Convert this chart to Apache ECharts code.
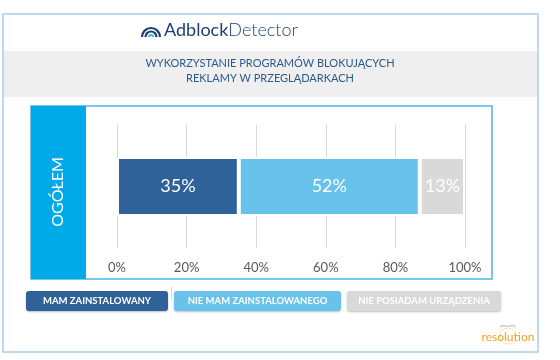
<!DOCTYPE html>
<html><head><meta charset="utf-8">
<script src="https://cdn.jsdelivr.net/npm/echarts@6/dist/echarts.min.js"></script>
<style>html,body{margin:0;padding:0;background:#fff}#c{width:560px;height:360px}</style>
</head><body><div id="c"></div>
<script>
const categories = ['OGÓŁEM'];
const seriesNames = ['MAM ZAINSTALOWANY', 'NIE MAM ZAINSTALOWANEGO', 'NIE POSIADAM URZĄDZENIA'];
const installed = [35];
const notInstalled = [52];
const noDevice = [13];
const tickLabels = ['0%', '20%', '40%', '60%', '80%', '100%'];
const titleLines = ['WYKORZYSTANIE PROGRAMÓW BLOKUJĄCYCH', 'REKLAMY W PRZEGLĄDARKACH'];
const colors = ['#2f6299', '#68c2ea', '#d9d9d9'];
const seriesData = [installed, notInstalled, noDevice];

const FONT = 'Lato, "Open Sans", sans-serif';
const chart = echarts.init(document.getElementById('c'), null, {renderer: 'canvas'});

const legendBoxes = [[26, 168], [174, 341], [347, 501]];
const legendGraphics = seriesNames.map((n, i) => ({
  type: 'group',
  children: [
    {type: 'rect', shape: {x: legendBoxes[i][0], y: 291, width: legendBoxes[i][1] - legendBoxes[i][0], height: 20, r: 3},
     style: {fill: colors[i], shadowBlur: 2, shadowColor: 'rgba(0,0,0,0.25)', shadowOffsetY: 1}},
    {type: 'text', x: (legendBoxes[i][0] + legendBoxes[i][1]) / 2, y: 301,
     style: {text: n, fill: '#ffffff', font: 'bold 9.5px ' + FONT, align: 'center', verticalAlign: 'middle'}}
  ]
}));

const option = {
  animation: false,
  backgroundColor: '#ffffff',
  grid: {left: 117, right: 95, top: 125, bottom: 112, containLabel: false},
  xAxis: {
    type: 'value', min: 0, max: 100, interval: 20,
    axisLine: {show: false}, axisTick: {show: false},
    splitLine: {show: true, lineStyle: {color: '#d6d6d6', width: 1}},
    axisLabel: {formatter: (v) => tickLabels[v / 20], color: '#595959', fontSize: 13, fontFamily: FONT, margin: 13}
  },
  yAxis: {
    type: 'category', data: categories,
    axisLine: {show: false}, axisTick: {show: false}, axisLabel: {show: false}, splitLine: {show: false}
  },
  series: seriesNames.map((n, i) => ({
    name: n, type: 'bar', stack: 'total', barWidth: 59,
    data: seriesData[i],
    itemStyle: {color: colors[i], borderColor: '#ffffff', borderWidth: 2},
    label: {show: true, position: 'inside', formatter: '{c}%', color: '#ffffff', fontSize: 18, fontFamily: FONT}
  })),
  graphic: [
    {type: 'rect', z: -10, shape: {x: 3, y: 14, width: 535, height: 338}, style: {fill: 'none', stroke: '#a9cde9', lineWidth: 1.5}},
    {type: 'rect', z: -9, shape: {x: 4, y: 51, width: 533, height: 46}, style: {fill: '#efefef'}},
    {type: 'text', x: 270, y: 63, style: {text: titleLines[0], fill: '#2d5a8a', font: '11px ' + FONT, align: 'center', verticalAlign: 'middle'}},
    {type: 'text', x: 270, y: 78, style: {text: titleLines[1], fill: '#2d5a8a', font: '11px ' + FONT, align: 'center', verticalAlign: 'middle'}},
    {type: 'arc', shape: {cx: 151, cy: 37, r: 9, startAngle: Math.PI, endAngle: 2 * Math.PI}, style: {fill: 'none', stroke: '#1f3f72', lineWidth: 2.2}},
    {type: 'arc', shape: {cx: 151, cy: 37, r: 5.5, startAngle: Math.PI, endAngle: 2 * Math.PI}, style: {fill: 'none', stroke: '#1f3f72', lineWidth: 2.2}},
    {type: 'arc', shape: {cx: 151, cy: 37, r: 2, startAngle: Math.PI, endAngle: 2 * Math.PI}, style: {fill: 'none', stroke: '#55b4e6', lineWidth: 2.2}},
    {type: 'text', x: 164, y: 30, style: {text: '{a|Adblock}{b|Detector}', verticalAlign: 'middle',
      rich: {a: {fill: '#1f3f72', font: '400 18px ' + FONT}, b: {fill: '#1f3f72', font: '300 18px ' + FONT}}}},
    {type: 'rect', z: -8, shape: {x: 31, y: 106, width: 461, height: 173}, style: {fill: '#ffffff', stroke: '#4fb3e3', lineWidth: 1.5}},
    {type: 'rect', z: -7, shape: {x: 31, y: 106, width: 55, height: 173}, style: {fill: '#00a9e8'}},
    {type: 'text', x: 58, y: 192, rotation: Math.PI / 2,
     style: {text: categories[0], fill: '#ffffff', font: '16px ' + FONT, align: 'center', verticalAlign: 'middle'}},
    {type: 'line', shape: {x1: 171.5, y1: 286, x2: 171.5, y2: 300}, style: {stroke: '#dddddd', lineWidth: 1}},
    ...legendGraphics,
    {type: 'text', x: 508, y: 326, style: {text: 'powered by', fill: '#999999', font: '3px ' + FONT, align: 'center', verticalAlign: 'middle'}},
    {type: 'circle', shape: {cx: 508, cy: 336, r: 8}, style: {fill: 'none', stroke: '#fbe3b8', lineWidth: 1}},
    {type: 'text', x: 508, y: 337, style: {text: 'resolution', fill: '#f0a21e', font: '12px "Liberation Sans Narrow", ' + FONT, align: 'center', verticalAlign: 'middle'}}
  ]
};
chart.setOption(option);
</script>
</body></html>
